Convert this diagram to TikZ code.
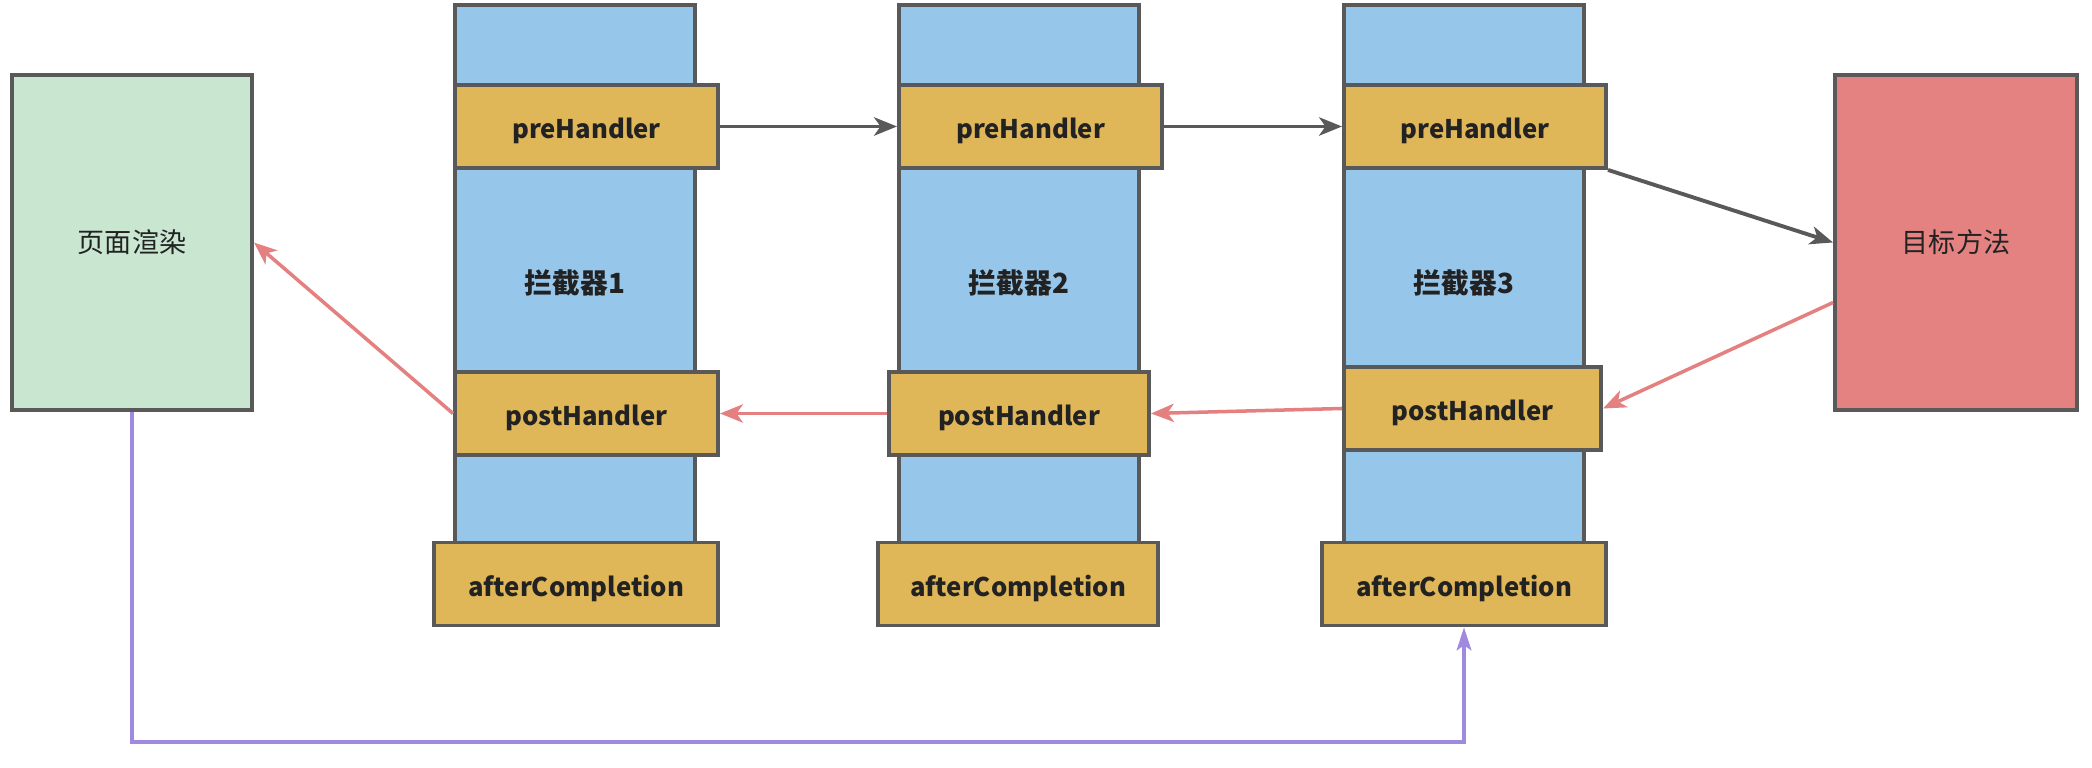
\documentclass[tikz,border=0pt]{standalone}
\usepackage{fontspec}
\newfontfamily\cjk{Noto Sans CJK SC}
\usetikzlibrary{arrows.meta}
\definecolor{edge}{HTML}{595959}
\definecolor{ink}{HTML}{222222}
\definecolor{colblue}{HTML}{96C7EB}
\definecolor{hookyellow}{HTML}{DFB759}
\definecolor{pagegreen}{HTML}{C9E6D0}
\definecolor{targetred}{HTML}{E48282}
\definecolor{backpink}{HTML}{E58080}
\definecolor{donepurple}{HTML}{A08AE0}

\begin{document}
\begin{tikzpicture}[x=0.01cm, y=-0.01cm,
    box/.style={draw=edge, line width=1.1pt, inner sep=0pt, text=ink,
        font=\cjk\fontsize{7.7}{9}\selectfont},
    page/.style={box, minimum width=2.4cm, minimum height=3.35cm},
    column/.style={box, fill=colblue, minimum width=2.4cm, minimum height=5.55cm,
        font=\cjk\bfseries\fontsize{7.9}{9}\selectfont},
    hook/.style={box, fill=hookyellow, minimum height=0.83cm, text height=0.7em, text depth=0pt,
        font=\cjk\bfseries\fontsize{7.3}{9}\selectfont},
    forward/.style={draw=edge, line width=1.1pt, -{Stealth[length=6.5pt, width=5.2pt, inset=1.8pt]}},
    backward/.style={draw=backpink, line width=1pt, -{Stealth[length=6.5pt, width=5.2pt, inset=1.8pt]}},
    finish/.style={draw=donepurple, line width=1pt, -{Stealth[length=6.5pt, width=4.2pt, inset=1.4pt]}}]
    \useasboundingbox (0,0) rectangle (2092,768);

    \node[page, fill=pagegreen] (render) at (132,242.5) {页面渲染};
    \node[page, fill=targetred, minimum width=2.42cm] (target) at (1956,242.5) {目标方法};

    % interceptor 1
    \node[column] (col1) at (575,282.5) {拦截器1};
    \node[hook, minimum width=2.63cm] (pre1) at (586.5,126.5) {preHandler};
    \node[hook, minimum width=2.63cm] (post1) at (586.5,413.5) {postHandler};
    \node[hook, minimum width=2.84cm] (after1) at (576,584) {afterCompletion};

    % interceptor 2
    \node[column] (col2) at (1019,282.5) {拦截器2};
    \node[hook, minimum width=2.63cm] (pre2) at (1030.5,126.5) {preHandler};
    \node[hook, minimum width=2.6cm] (post2) at (1019,413.5) {postHandler};
    \node[hook, minimum width=2.8cm] (after2) at (1018,584) {afterCompletion};

    % interceptor 3
    \node[column] (col3) at (1464,282.5) {拦截器3};
    \node[hook, minimum width=2.62cm] (pre3) at (1475,126.5) {preHandler};
    \node[hook, minimum width=2.57cm] (post3) at (1472.5,408.5) {postHandler};
    \node[hook, minimum width=2.84cm] (after3) at (1464,584) {afterCompletion};

    \draw[forward] (pre1.east) -- (pre2.west);
    \draw[forward] (pre2.east) -- (pre3.west);
    \draw[forward] (pre3.south east) -- (target.west);
    \draw[backward] ([yshift=-0.6cm]target.west) -- (post3.east);
    \draw[backward] (post3.west) -- (post2.east);
    \draw[backward] (post2.west) -- (post1.east);
    \draw[backward] (post1.west) -- (render.east);
    \draw[finish] (render.south) -- ++(0,330) -| (after3.south);
\end{tikzpicture}
\end{document}
